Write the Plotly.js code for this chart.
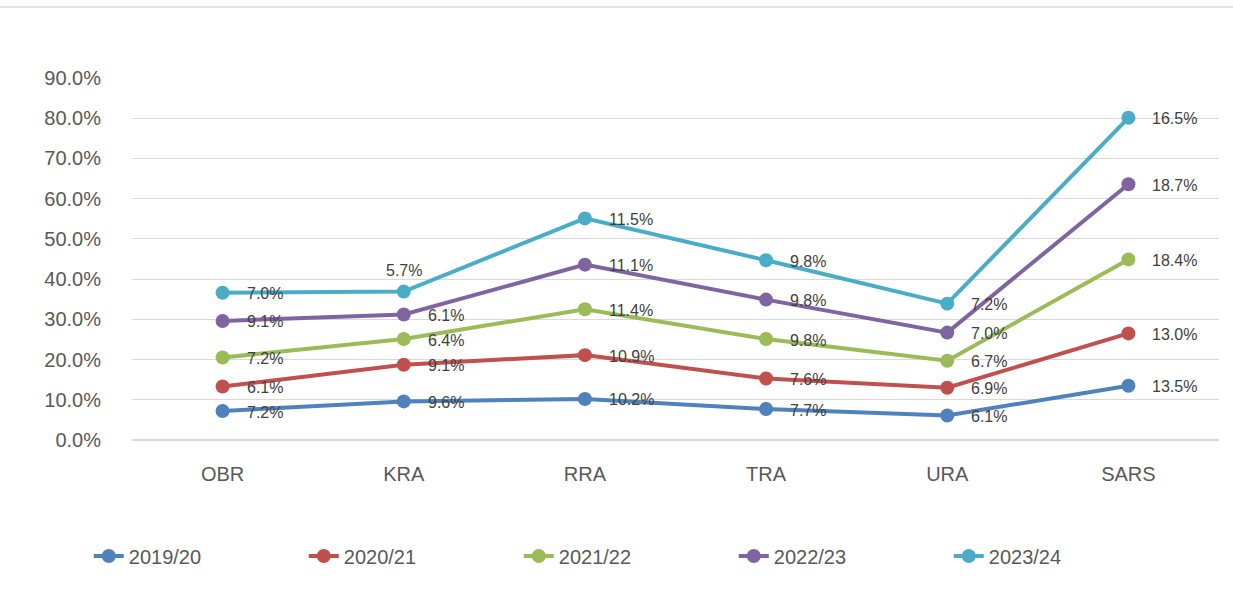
<!DOCTYPE html>
<html><head><meta charset="utf-8">
<script src="https://cdn.plot.ly/plotly-3.0.1.min.js"></script>
<style>html,body{margin:0;padding:0;background:#fff}#chart{width:1233px;height:593px}</style>
</head><body><div id="chart"></div>
<script>
const categories = ['OBR','KRA','RRA','TRA','URA','SARS'];
const seriesNames = ['2019/20','2020/21','2021/22','2022/23','2023/24'];
const s2019 = [7.2, 9.6, 10.2, 7.7, 6.1, 13.5];
const s2020 = [6.1, 9.1, 10.9, 7.6, 6.9, 13.0];
const s2021 = [7.2, 6.4, 11.4, 9.8, 6.7, 18.4];
const s2022 = [9.1, 6.1, 11.1, 9.8, 7.0, 18.7];
const s2023 = [7.0, 5.7, 11.5, 9.8, 7.2, 16.5];
const yTicks = [0, 0.1, 0.2, 0.3, 0.4, 0.5, 0.6, 0.7, 0.8, 0.9];

const series = [s2019, s2020, s2021, s2022, s2023];
const colors = ['#4F81BD', '#C0504D', '#9BBB59', '#8064A2', '#4BACC6'];

const traces = series.map((vals, i) => ({
  type: 'scatter',
  x: categories,
  y: vals.map(v => v / 100),
  name: seriesNames[i],
  stackgroup: 'one',
  fill: 'none',
  mode: 'lines+markers',
  line: {color: colors[i], width: 4},
  marker: {color: colors[i], size: 14},
  hoverinfo: 'skip'
}));

// data labels at the stacked positions
const annotations = [];
const cum = categories.map(() => 0);
series.forEach((vals, i) => {
  vals.forEach((v, j) => {
    cum[j] += v;
    const special = (i === 4 && j === 1);
    annotations.push({
      x: categories[j], y: cum[j] / 100,
      xref: 'x', yref: 'y',
      text: v.toFixed(1) + '%',
      showarrow: false,
      xanchor: special ? 'center' : 'left',
      yanchor: 'middle',
      xshift: special ? 0 : 22,
      yshift: special ? 21 : -1,
      font: {family: 'Liberation Sans, Arial, sans-serif', size: 16, color: '#404040'}
    });
  });
});

const layout = {
  width: 1233, height: 593,
  margin: {l: 132, r: 14, t: 78, b: 153},
  paper_bgcolor: '#ffffff', plot_bgcolor: '#ffffff',
  font: {family: 'Liberation Sans, Arial, sans-serif', color: '#595959'},
  showlegend: true,
  legend: {
    orientation: 'h', xref: 'container', yref: 'container',
    x: 0.072, xanchor: 'left', y: 37 / 593, yanchor: 'middle',
    entrywidth: 170, entrywidthmode: 'pixels',
    font: {size: 20, color: '#595959'}, traceorder: 'normal'
  },
  xaxis: {
    type: 'category', range: [-0.5, 5.5],
    showgrid: false, zeroline: false, showline: false,
    ticks: '', ticklabelstandoff: 20,
    tickfont: {size: 20, color: '#595959'}
  },
  yaxis: {
    range: [0, 0.9], tickvals: yTicks, tickformat: '.1%',
    showgrid: true, gridcolor: '#D9D9D9', gridwidth: 1,
    zeroline: true, zerolinecolor: '#D9D9D9', zerolinewidth: 1.5,
    showline: false, ticks: '', ticklabelstandoff: 30,
    tickfont: {size: 20, color: '#595959'}
  },
  annotations: annotations,
  shapes: [{
    type: 'line', xref: 'paper', yref: 'paper',
    x0: -0.125, x1: 1.015, y0: (440 - 7) / 362, y1: (440 - 7) / 362,
    line: {color: '#D9D9D9', width: 1.5}
  }]
};

Plotly.newPlot('chart', traces, layout, {displayModeBar: false, staticPlot: true});
</script>
</body></html>
